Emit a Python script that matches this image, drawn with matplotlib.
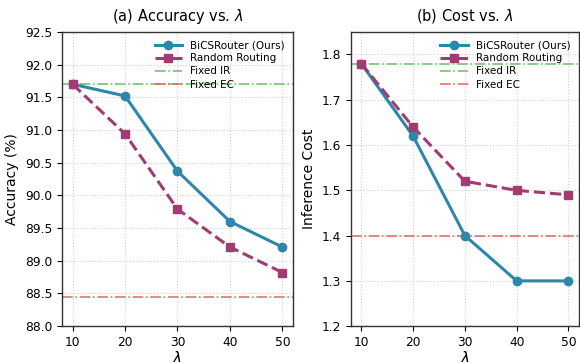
import matplotlib
matplotlib.use("Agg")
import matplotlib.pyplot as plt

lambdas = [10, 20, 30, 40, 50]
acc_bics = [91.70, 91.52, 90.37, 89.60, 89.21]
acc_rand = [91.70, 90.94, 89.79, 89.21, 88.82]
acc_fixed_ir = 91.70
acc_fixed_ec = 88.44
cost_bics = [1.78, 1.62, 1.40, 1.30, 1.30]
cost_rand = [1.78, 1.64, 1.52, 1.50, 1.49]
cost_fixed_ir = 1.78
cost_fixed_ec = 1.40

blue = "#2E86AB"
purple = "#A23B72"
green = "#5cb85c"
red = "#e05a5a"

fig = plt.figure(figsize=(5.8, 3.62), dpi=100)
ax1 = fig.add_axes([0.107, 0.099, 0.398, 0.813])
ax2 = fig.add_axes([0.605, 0.099, 0.393, 0.813])

def draw(ax, bics, rand, ir, ec, ylabel, title, ylim, yticks, fmt):
    ax.plot(lambdas, bics, color=blue, lw=2.2, marker="o", ms=6, label="BiCSRouter (Ours)", zorder=3)
    ax.plot(lambdas, rand, color=purple, lw=2.2, ls="--", marker="s", ms=6, label="Random Routing", zorder=3)
    ax.axhline(ir, color=green, lw=1.2, ls="-.", alpha=0.85, label="Fixed IR")
    ax.axhline(ec, color=red, lw=1.2, ls="-.", alpha=0.85, label="Fixed EC")
    ax.set_xlim(8, 52)
    ax.set_ylim(*ylim)
    ax.set_xticks(lambdas)
    ax.set_yticks(yticks)
    ax.set_yticklabels([fmt.format(v) for v in yticks])
    ax.set_xlabel(r"$\lambda$", fontsize=11, labelpad=1)
    ax.set_ylabel(ylabel, fontsize=10)
    ax.set_title(title, fontsize=10.5, pad=8)
    ax.grid(True, ls=":", color="#d0d0d0", lw=0.8)
    ax.tick_params(labelsize=8.8)
    for s in ax.spines.values():
        s.set_linewidth(1.0)
        s.set_color("#333333")
    ax.legend(loc="upper right", fontsize=7.5, frameon=False, handlelength=2.6,
              labelspacing=0.3, borderaxespad=0.4)

draw(ax1, acc_bics, acc_rand, acc_fixed_ir, acc_fixed_ec, "Accuracy (%)",
     r"(a) Accuracy vs. $\lambda$", (88.0, 92.5),
     [88.0, 88.5, 89.0, 89.5, 90.0, 90.5, 91.0, 91.5, 92.0, 92.5], "{:.1f}")
draw(ax2, cost_bics, cost_rand, cost_fixed_ir, cost_fixed_ec, "Inference Cost",
     r"(b) Cost vs. $\lambda$", (1.2, 1.85),
     [1.2, 1.3, 1.4, 1.5, 1.6, 1.7, 1.8], "{:.1f}")

fig.savefig("out.png", dpi=100)
